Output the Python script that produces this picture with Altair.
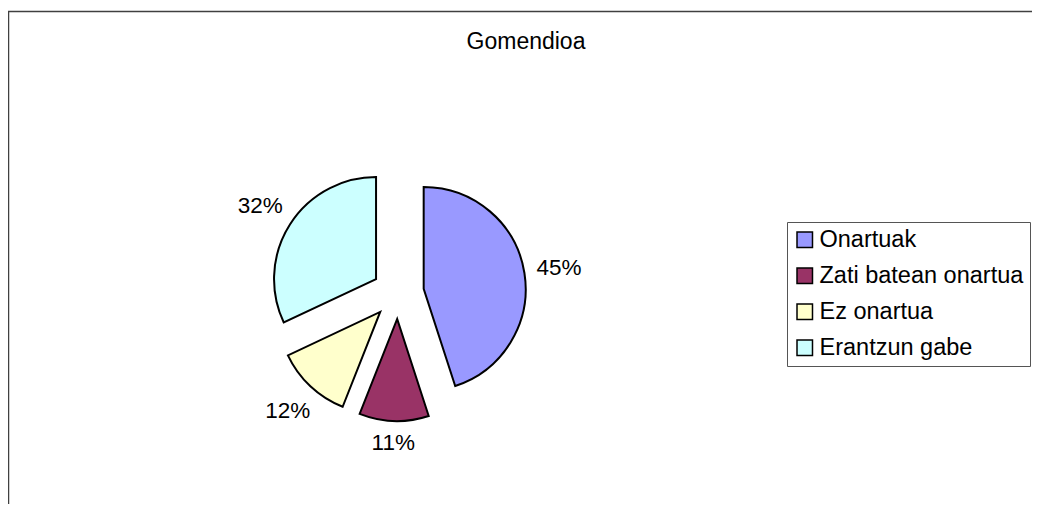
import altair as alt
import pandas as pd

# ---- data ----
categories = ["Onartuak", "Zati batean onartua", "Ez onartua", "Erantzun gabe"]
values = [45, 11, 12, 32]
colors = ["#9999FF", "#993366", "#FFFFCC", "#CCFFFF"]
title_text = "Gomendioa"

df = pd.DataFrame({"cat": categories, "val": values, "order": list(range(len(categories)))})

FONT = "Liberation Sans"
CX, CY = 390, 282      # pie centre in plot coordinates (px)
R = 102                # radius (px)
D = 26                 # explode distance (px)
W, H = 1024, 493

base = (
    alt.Chart(df)
    .transform_window(cum="sum(val)", sort=[alt.SortField("order")])
    .transform_joinaggregate(total="sum(val)")
    .transform_calculate(
        t1="2*PI*datum.cum/datum.total",
        t0="2*PI*(datum.cum-datum.val)/datum.total",
    )
    .transform_calculate(mid="(datum.t0+datum.t1)/2")
    .transform_calculate(
        px=f"{CX}+{D}*sin(datum.mid)",
        py=f"{CY}-{D}*cos(datum.mid)",
        lr=f"{R}+{D}+13+21*abs(sin(datum.mid))+8*abs(cos(datum.mid))",
        label="datum.val + '%'",
    )
    .transform_calculate(
        lx=f"{CX}+datum.lr*sin(datum.mid)",
        ly=f"{CY}-datum.lr*cos(datum.mid)",
    )
)

arcs = base.mark_arc(outerRadius=R, stroke="black", strokeWidth=2).encode(
    theta=alt.Theta("t0:Q", scale=None),
    theta2="t1:Q",
    x=alt.X("px:Q", scale=None),
    y=alt.Y("py:Q", scale=None),
    color=alt.Color(
        "cat:N",
        scale=alt.Scale(domain=categories, range=colors),
        sort=categories,
        legend=alt.Legend(
            title=None,
            orient="none",
            legendX=779,
            legendY=211,
            symbolType="square",
            symbolSize=240,
            symbolStrokeColor="black",
            symbolStrokeWidth=1.5,
            symbolOpacity=1,
            labelFont=FONT,
            labelFontSize=23.5,
            labelColor="black",
            labelLimit=400,
            labelOffset=3,
            rowPadding=11,
            padding=6,
            strokeColor="#555555",
            fillColor="white",
        ),
    ),
)

labels = base.mark_text(font=FONT, fontSize=22.5, color="black", align="center", baseline="middle").encode(
    x=alt.X("lx:Q", scale=None),
    y=alt.Y("ly:Q", scale=None),
    text="label:N",
)

one = pd.DataFrame({"t": [title_text]})

title = alt.Chart(one).mark_text(
    font=FONT, fontSize=23, color="black", align="center", baseline="middle"
).encode(x=alt.value(518), y=alt.value(31), text="t:N")

# chart-area frame: only the left and top edges fall inside the window
frame_left = alt.Chart(one).mark_rule(color="#404040", strokeWidth=1.5).encode(
    x=alt.value(0.5), y=alt.value(0), y2=alt.value(H + 20)
)
frame_top = alt.Chart(one).mark_rule(color="#404040", strokeWidth=1.5).encode(
    x=alt.value(0), x2=alt.value(W + 20), y=alt.value(0.5)
)

chart = (
    alt.layer(frame_left, frame_top, arcs, labels, title)
    .properties(
        width=W,
        height=H,
        padding={"left": 0, "top": 3, "right": 0, "bottom": 0},
        autosize=alt.AutoSizeParams(type="none"),
    )
    .configure_view(stroke=None)
)

chart.save("out.html", embed_options={"renderer": "svg", "actions": False})
